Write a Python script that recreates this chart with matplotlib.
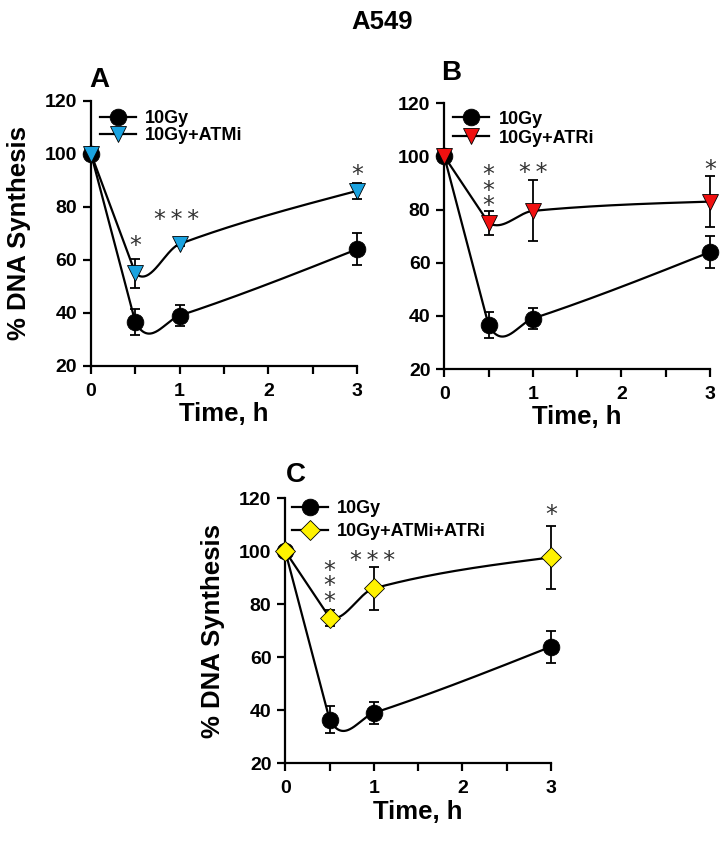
import numpy as np
import matplotlib
matplotlib.use("Agg")
import matplotlib.pyplot as plt
from matplotlib.ticker import MultipleLocator
from matplotlib.transforms import offset_copy

plt.rcParams['font.family'] = ['Liberation Sans', 'DejaVu Sans']

# ---------------- data ----------------
time_h = [0, 0.5, 1, 3]
ctrl_10gy = [100, 36.5, 39, 64]
ctrl_err = [0, 5, 4, 6]

atmi = [100, 55, 66, 86]
atmi_err = [0, 5.5, 0.8, 3]

atri = [100, 75, 79.5, 83]
atri_err = [0, 4.5, 11.5, 9.5]

atmi_atri = [100, 75, 86, 97.7]
atmi_atri_err = [0, 3, 8, 12]

# significance stars: (x, y, text)
HS = "\u2009"
stars_A = [(0.5, 66.9, "*"), (0.97, 76.9, HS.join("***")), (3, 93.9, "*")]
stars_B = [(0.5, 89.0, "*\n*\n*"), (1.0, 95.5, HS.join("**")), (3, 96.8, "*")]
stars_C = [(0.5, 88.7, "*\n*\n*"), (0.98, 98.0, HS.join("***")), (3, 115.6, "*")]

W, H = 725.0, 842.0


def smooth_curve(x, y, n=60):
    """Piecewise cubic Hermite: straight first segment, central-difference
    tangents at interior nodes, natural end condition at the last node."""
    x = np.asarray(x, float)
    y = np.asarray(y, float)
    k = len(x)
    sec = np.diff(y) / np.diff(x)
    m = np.zeros(k)
    for i in range(1, k - 1):
        m[i] = (y[i + 1] - y[i - 1]) / (x[i + 1] - x[i - 1])
    m[-1] = (3 * sec[-1] - m[-2]) / 2
    xs_all, ys_all = [], []
    for i in range(k - 1):
        h = x[i + 1] - x[i]
        if i == 0:
            m0, m1 = sec[0], sec[0]
        else:
            m0, m1 = m[i], m[i + 1]
        t = np.linspace(0, 1, n)
        h00 = 2 * t ** 3 - 3 * t ** 2 + 1
        h10 = t ** 3 - 2 * t ** 2 + t
        h01 = -2 * t ** 3 + 3 * t ** 2
        h11 = t ** 3 - t ** 2
        xs_all.append(x[i] + t * h)
        ys_all.append(h00 * y[i] + h10 * h * m0 + h01 * y[i + 1] + h11 * h * m1)
    return np.concatenate(xs_all), np.concatenate(ys_all)


fig = plt.figure(figsize=(7.25, 8.42), dpi=100)


def make_ax(left_px, right_px, top_px, bottom_px):
    return fig.add_axes([left_px / W, 1 - bottom_px / H, (right_px - left_px) / W, (bottom_px - top_px) / H])


def style_ax(ax, ylabel=True):
    ax.set_xlim(0, 3)
    ax.set_ylim(20, 120)
    for s in ['top', 'right']:
        ax.spines[s].set_visible(False)
    for s in ['left', 'bottom']:
        ax.spines[s].set_linewidth(1.6)
    ax.xaxis.set_major_locator(MultipleLocator(1))
    ax.xaxis.set_minor_locator(MultipleLocator(0.5))
    ax.yaxis.set_major_locator(MultipleLocator(20))
    ax.tick_params(which='both', direction='out', length=6, width=1.6, labelsize=14)
    ax.tick_params(axis='x', which='both', pad=6)
    ax.tick_params(axis='y', which='both', pad=4)
    for lab in ax.get_xticklabels() + ax.get_yticklabels():
        lab.set_fontweight('bold')
    ax.set_xlabel('Time, h', fontsize=18.5, fontweight='bold', labelpad=2)
    if ylabel:
        ax.set_ylabel('% DNA Synthesis', fontsize=18.5, fontweight='bold', labelpad=10)


def draw_series(ax, y, err, marker, color, ms, label, z):
    xs, ys = smooth_curve(time_h, y)
    ax.plot(xs, ys, color='black', lw=1.6, zorder=z, clip_on=False)
    ax.errorbar(time_h, y, yerr=err, fmt='none', ecolor='black', elinewidth=1.3,
                capsize=3.6, capthick=1.3, zorder=z, clip_on=False)
    ax.plot(time_h, y, linestyle='none', marker=marker, ms=ms, mfc=color, mec='black',
            mew=0.6, zorder=z + 1, clip_on=False)
    return ax.plot([], [], color='black', lw=1.6, marker=marker, ms=ms, mfc=color,
                   mec='black', mew=0.6, label=label)[0]


def draw_stars(ax, stars):
    tr = offset_copy(ax.transData, fig=fig, x=0, y=-3.5, units='points')
    for x, y, t in stars:
        ax.text(x, y, t, ha='center', va='center', fontsize=17, color='#333333',
                family=['DejaVu Sans'], linespacing=0.55, zorder=10, transform=tr)


def panel(ax, series2, err2, marker, color, ms, label2, stars, letter, letter_xy, leg_anchor, leg_space, ylabel=True):
    style_ax(ax, ylabel)
    h1 = draw_series(ax, ctrl_10gy, ctrl_err, 'o', 'black', 12, '10Gy', 3)
    h2 = draw_series(ax, series2, err2, marker, color, ms, label2, 5)
    draw_stars(ax, stars)
    ax.legend(handles=[h1, h2], loc='upper left', bbox_to_anchor=leg_anchor, frameon=False,
              prop={'weight': 'bold', 'size': 13}, handlelength=2.0, handletextpad=0.5,
              labelspacing=leg_space, borderaxespad=0, borderpad=0)
    fig.text(letter_xy[0] / W, 1 - letter_xy[1] / H, letter, fontsize=20, fontweight='bold',
             ha='left', va='center')


axA = make_ax(91, 357, 100.7, 366)
panel(axA, atmi, atmi_err, 'v', '#1AA3E0', 12, '10Gy+ATMi', stars_A, 'A', (89, 80), (0.034, 0.965), 0.0)

axB = make_ax(444.3, 710, 103.3, 369)
panel(axB, atri, atri_err, 'v', '#F01010', 12, '10Gy+ATRi', stars_B, 'B', (441, 73), (0.034, 0.972), 0.1, ylabel=False)

axC = make_ax(285.3, 551, 498.3, 763.3)
panel(axC, atmi_atri, atmi_atri_err, 'D', '#FFF200', 10, '10Gy+ATMi+ATRi', stars_C, 'C', (286, 475), (0.024, 0.994), 0.33)

fig.text(381.7 / W, 1 - 21.7 / H, 'A549', fontsize=18.5, fontweight='bold', ha='center', va='center')

fig.savefig('out.png', dpi=100)
